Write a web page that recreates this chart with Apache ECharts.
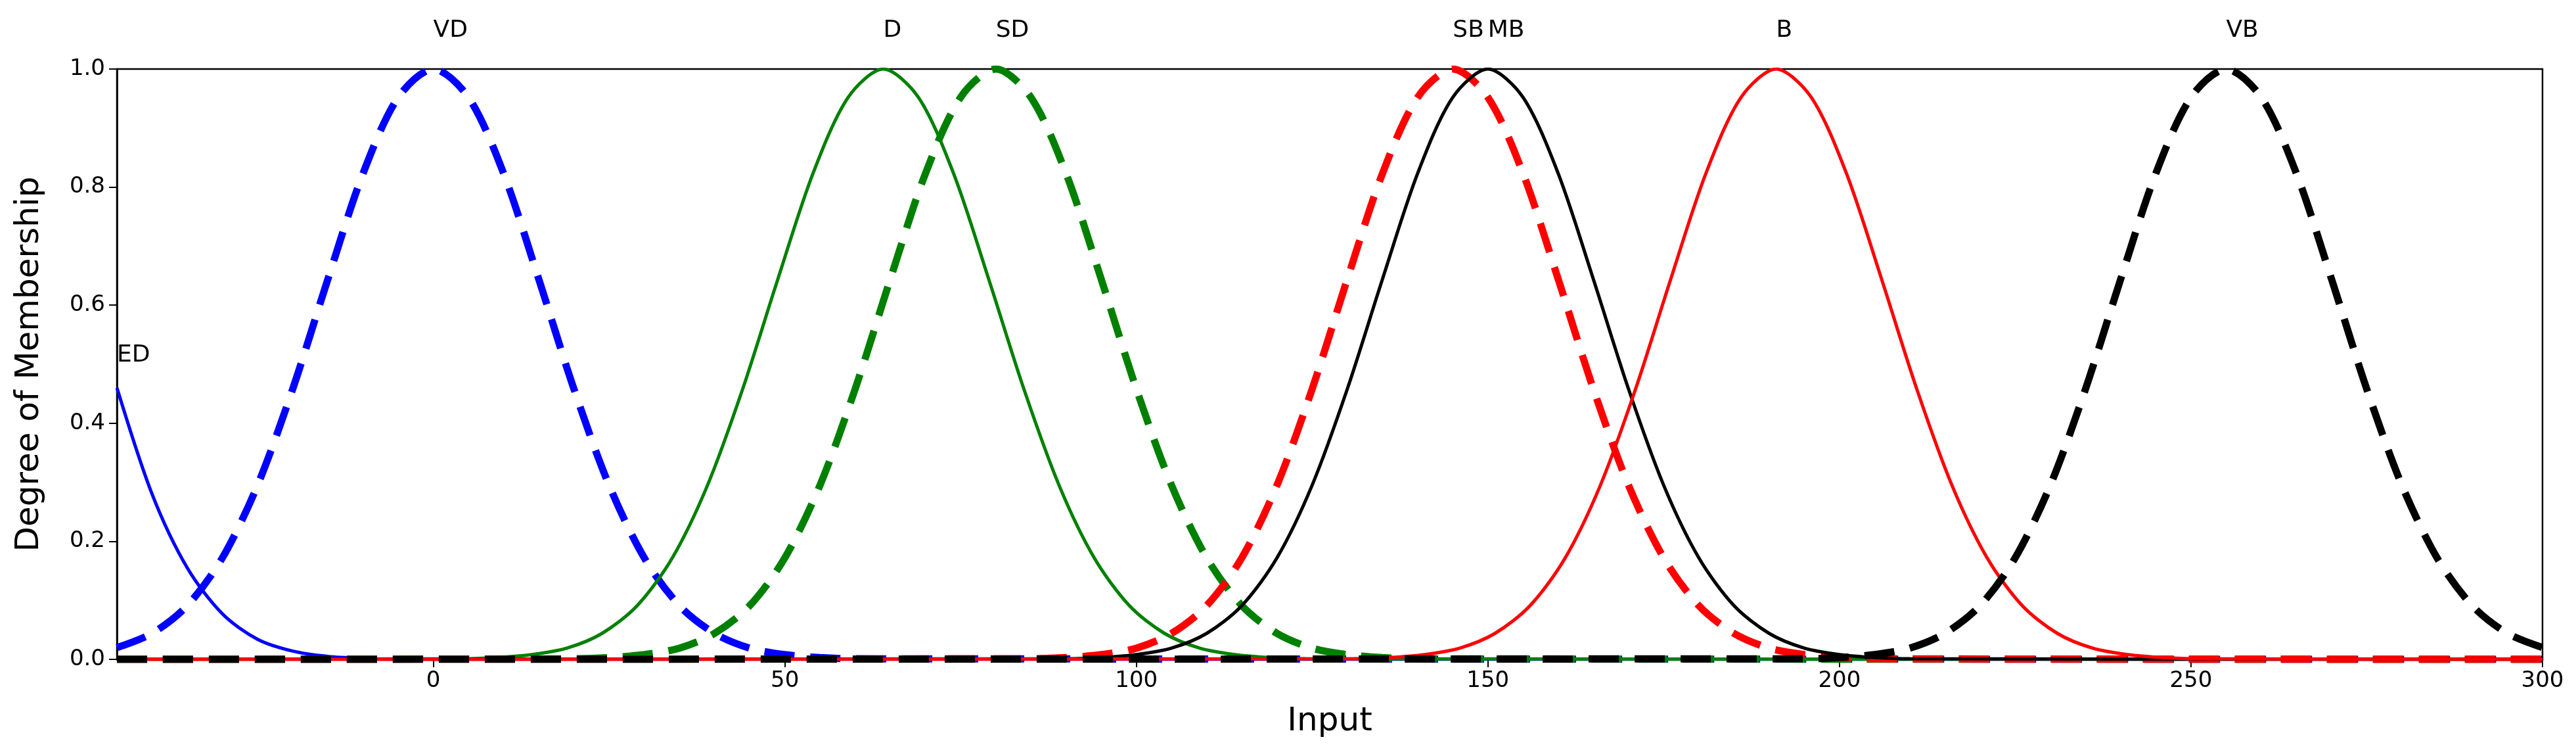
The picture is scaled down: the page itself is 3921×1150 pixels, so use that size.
<!DOCTYPE html>
<html>
<head>
<meta charset="utf-8">
<script src="https://cdn.jsdelivr.net/npm/echarts@6/dist/echarts.min.js"></script>
<style>html,body{margin:0;padding:0;background:#fff}#chart{width:3921px;height:1150px}</style>
</head>
<body>
<div id="chart"></div>
<script>
// membership curves (x, degree)
var edX = [-45, -40, -35, -30, -25, -20, -15, -10, -5, 300];
var edY = [0.46, 0.28, 0.155, 0.077, 0.034, 0.014, 0.005, 0.0015, 0, 0];

var vdX = [-45, -40, -35, -30, -25, -20, -15, -10, -5, 0, 5, 10, 15, 20, 25, 30, 35, 40, 45, 50, 55, 60, 300];
var vdY = [0.02, 0.044, 0.091, 0.172, 0.295, 0.458, 0.644, 0.823, 0.952, 1, 0.952, 0.823, 0.644, 0.458, 0.295, 0.172, 0.091, 0.044, 0.019, 0.008, 0.003, 0.001, 0];

var dX = [-45, 4, 9, 14, 19, 24, 29, 34, 39, 44, 49, 54, 59, 64, 69, 74, 79, 84, 89, 94, 99, 104, 109, 114, 119, 124, 300];
var dY = [0, 0.001, 0.003, 0.008, 0.019, 0.044, 0.091, 0.172, 0.295, 0.458, 0.644, 0.823, 0.952, 1, 0.952, 0.823, 0.644, 0.458, 0.295, 0.172, 0.091, 0.044, 0.019, 0.008, 0.003, 0.001, 0];

var sdX = [-45, 20, 25, 30, 35, 40, 45, 50, 55, 60, 65, 70, 75, 80, 85, 90, 95, 100, 105, 110, 115, 120, 125, 130, 135, 140, 300];
var sdY = [0, 0.001, 0.003, 0.008, 0.019, 0.044, 0.091, 0.172, 0.295, 0.458, 0.644, 0.823, 0.952, 1, 0.952, 0.823, 0.644, 0.458, 0.295, 0.172, 0.091, 0.044, 0.019, 0.008, 0.003, 0.001, 0];

var sbX = [-45, 85, 90, 95, 100, 105, 110, 115, 120, 125, 130, 135, 140, 145, 150, 155, 160, 165, 170, 175, 180, 185, 190, 195, 200, 205, 300];
var sbY = [0, 0.001, 0.003, 0.008, 0.019, 0.044, 0.091, 0.172, 0.295, 0.458, 0.644, 0.823, 0.952, 1, 0.952, 0.823, 0.644, 0.458, 0.295, 0.172, 0.091, 0.044, 0.019, 0.008, 0.003, 0.001, 0];

var mbX = [-45, 90, 95, 100, 105, 110, 115, 120, 125, 130, 135, 140, 145, 150, 155, 160, 165, 170, 175, 180, 185, 190, 195, 200, 205, 210, 300];
var mbY = [0, 0.001, 0.003, 0.008, 0.019, 0.044, 0.091, 0.172, 0.295, 0.458, 0.644, 0.823, 0.952, 1, 0.952, 0.823, 0.644, 0.458, 0.295, 0.172, 0.091, 0.044, 0.019, 0.008, 0.003, 0.001, 0];

var bX = [-45, 131, 136, 141, 146, 151, 156, 161, 166, 171, 176, 181, 186, 191, 196, 201, 206, 211, 216, 221, 226, 231, 236, 241, 246, 251, 300];
var bY = [0, 0.001, 0.003, 0.008, 0.019, 0.044, 0.091, 0.172, 0.295, 0.458, 0.644, 0.823, 0.952, 1, 0.952, 0.823, 0.644, 0.458, 0.295, 0.172, 0.091, 0.044, 0.019, 0.008, 0.003, 0.001, 0];

var vbX = [-45, 195, 200, 205, 210, 215, 220, 225, 230, 235, 240, 245, 250, 255, 260, 265, 270, 275, 280, 285, 290, 295, 300];
var vbY = [0, 0.001, 0.003, 0.008, 0.019, 0.044, 0.091, 0.172, 0.295, 0.458, 0.644, 0.823, 0.952, 1, 0.952, 0.823, 0.644, 0.458, 0.295, 0.172, 0.091, 0.044, 0.02];

var xTicks = [0, 50, 100, 150, 200, 250, 300];

var curves = [
    { name: 'ED', xs: edX, ys: edY, color: '#0000ff', dashed: false, peak: [-45, 0.515] },
    { name: 'VD', xs: vdX, ys: vdY, color: '#0000ff', dashed: true, peak: [0, 1] },
    { name: 'D', xs: dX, ys: dY, color: '#008000', dashed: false, peak: [64, 1] },
    { name: 'SD', xs: sdX, ys: sdY, color: '#008000', dashed: true, peak: [80, 1] },
    { name: 'SB', xs: sbX, ys: sbY, color: '#ff0000', dashed: true, peak: [145, 1] },
    { name: 'MB', xs: mbX, ys: mbY, color: '#000000', dashed: false, peak: [150, 1] },
    { name: 'B', xs: bX, ys: bY, color: '#ff0000', dashed: false, peak: [191, 1] },
    { name: 'VB', xs: vbX, ys: vbY, color: '#000000', dashed: true, peak: [255, 1] }
];

var series = curves.map(function (c) {
    var top = c.name !== 'ED';
    return {
        type: 'line',
        name: c.name,
        data: c.xs.map(function (x, i) { return [x, c.ys[i]]; }),
        smooth: 0.3,
        showSymbol: false,
        clip: true,
        lineStyle: {
            color: c.color,
            width: c.dashed ? 11 : 5,
            type: c.dashed ? [46, 24] : 'solid'
        },
        markPoint: {
            symbol: 'circle',
            symbolSize: 0,
            silent: true,
            data: [{ coord: c.peak }],
            label: {
                show: true,
                formatter: c.name,
                position: 'inside',
                align: 'left',
                verticalAlign: top ? 'bottom' : 'middle',
                offset: top ? [0, -40] : [0, 0],
                color: '#000',
                fontSize: 36,
                fontFamily: 'DejaVu Sans'
            }
        }
    };
});

var chart = echarts.init(document.getElementById('chart'));
chart.setOption({
    animation: false,
    grid: { left: 178, right: 51, top: 105, bottom: 147, show: true, borderColor: '#000', borderWidth: 2.5 },
    xAxis: {
        type: 'value', min: -45, max: 300,
        name: 'Input', nameLocation: 'middle', nameGap: 70,
        nameTextStyle: { fontSize: 50, fontFamily: 'DejaVu Sans', color: '#000' },
        axisLine: { onZero: false, lineStyle: { color: '#000', width: 2.5 } },
        axisTick: { customValues: xTicks, length: 12, lineStyle: { color: '#000', width: 2 } },
        axisLabel: { customValues: xTicks, fontSize: 34, fontFamily: 'DejaVu Sans', color: '#000', margin: 16 },
        splitLine: { show: false }
    },
    yAxis: {
        type: 'value', min: 0, max: 1, interval: 0.2,
        name: 'Degree of Membership', nameLocation: 'middle', nameGap: 108,
        nameTextStyle: { fontSize: 50, fontFamily: 'DejaVu Sans', color: '#000' },
        axisLine: { show: true, onZero: false, lineStyle: { color: '#000', width: 2.5 } },
        axisTick: { show: true, length: 12, lineStyle: { color: '#000', width: 2 } },
        axisLabel: {
            fontSize: 34, fontFamily: 'DejaVu Sans', color: '#000', margin: 18,
            formatter: function (v) { return v.toFixed(1); }
        },
        splitLine: { show: false }
    },
    series: series
});
</script>
</body>
</html>
